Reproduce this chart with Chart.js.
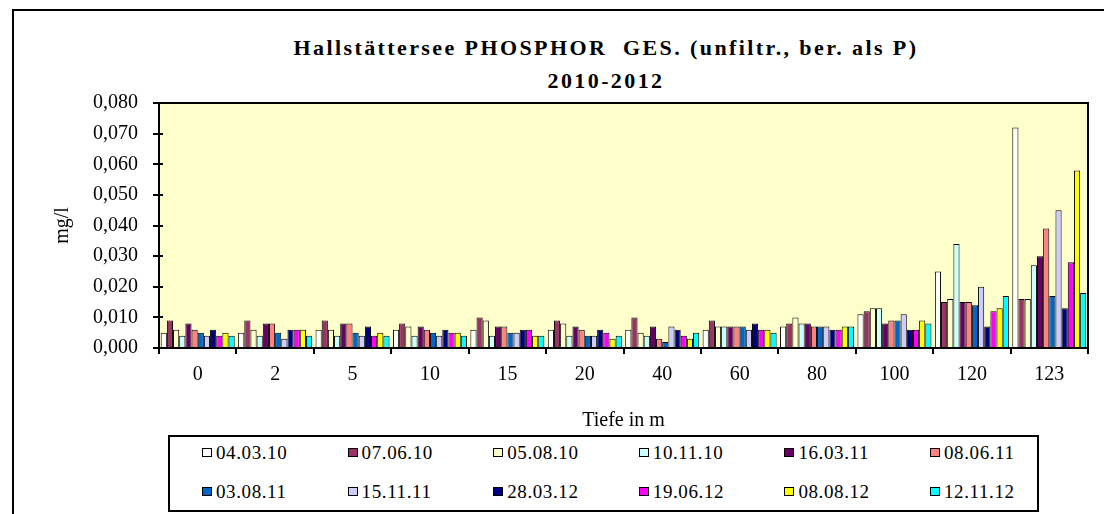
<!DOCTYPE html>
<html>
<head>
<meta charset="utf-8">
<script src="https://cdn.jsdelivr.net/npm/chart.js@4.4.1/dist/chart.umd.min.js"></script>
<style>
  html, body { margin: 0; padding: 0; background: #fff; }
  body { width: 1104px; height: 514px; overflow: hidden; position: relative; font-family: "Liberation Serif", "Times New Roman", serif; color: #000; }
  #frame { position: absolute; left: 12px; top: 9px; width: 1300px; height: 700px; border: 2px solid #000; box-sizing: border-box; }
  #title { position: absolute; left: 0; width: 1212px; top: 31px; text-align: center; font-weight: bold; font-size: 22px; line-height: 33px; letter-spacing: 2.4px; }
  #chart { position: absolute; left: 0; top: 0; }
  #legend { position: absolute; left: 168px; top: 435px; width: 871px; height: 77px; border: 2px solid #000; box-sizing: border-box; background: #fff; }
  .item { position: absolute; height: 22px; line-height: 22px; font-size: 19px; letter-spacing: 0.6px; white-space: nowrap; }
  .swatch { display: inline-block; width: 8px; height: 7px; border: 1.5px solid #000; vertical-align: middle; margin-right: 4px; position: relative; top: -2px; }
</style>
</head>
<body>
<div id="frame"></div>
<div id="title">Hallstättersee PHOSPHOR&nbsp; GES. (unfiltr., ber. als P)<br>2010-2012</div>
<canvas id="chart" width="1104" height="440"></canvas>
<div id="legend"></div>
<script>
const depths = ["0", "2", "5", "10", "15", "20", "40", "60", "80", "100", "120", "123"];
const yTickLabels = ["0,000", "0,010", "0,020", "0,030", "0,040", "0,050", "0,060", "0,070", "0,080"];

const d040310 = [0.005, 0.005, 0.006, 0.006, 0.006, 0.006, 0.006, 0.006, 0.007, 0.011, 0.025, 0.072];
const d070610 = [0.009, 0.009, 0.009, 0.008, 0.010, 0.009, 0.010, 0.009, 0.008, 0.012, 0.015, 0.016];
const d050810 = [0.006, 0.006, 0.006, 0.007, 0.009, 0.008, 0.005, 0.007, 0.010, 0.013, 0.016, 0.016];
const d101110 = [0.004, 0.004, 0.004, 0.004, 0.004, 0.004, 0.004, 0.007, 0.008, 0.013, 0.034, 0.027];
const d160311 = [0.008, 0.008, 0.008, 0.007, 0.007, 0.007, 0.007, 0.007, 0.008, 0.008, 0.015, 0.030];
const d080611 = [0.006, 0.008, 0.008, 0.006, 0.007, 0.006, 0.003, 0.007, 0.007, 0.009, 0.015, 0.039];
const d030811 = [0.005, 0.005, 0.005, 0.005, 0.005, 0.004, 0.002, 0.007, 0.007, 0.009, 0.014, 0.017];
const d151111 = [0.004, 0.003, 0.004, 0.004, 0.005, 0.004, 0.007, 0.006, 0.007, 0.011, 0.020, 0.045];
const d280312 = [0.006, 0.006, 0.007, 0.006, 0.006, 0.006, 0.006, 0.008, 0.006, 0.006, 0.007, 0.013];
const d190612 = [0.004, 0.006, 0.004, 0.005, 0.006, 0.005, 0.004, 0.006, 0.006, 0.006, 0.012, 0.028];
const d080812 = [0.005, 0.006, 0.005, 0.005, 0.004, 0.003, 0.003, 0.006, 0.007, 0.009, 0.013, 0.058];
const d121112 = [0.004, 0.004, 0.004, 0.004, 0.004, 0.004, 0.005, 0.005, 0.007, 0.008, 0.017, 0.018];

const seriesLabels = ["04.03.10", "07.06.10", "05.08.10", "10.11.10", "16.03.11", "08.06.11",
  "03.08.11", "15.11.11", "28.03.12", "19.06.12", "08.08.12", "12.11.12"];
const seriesValues = [d040310, d070610, d050810, d101110, d160311, d080611,
  d030811, d151111, d280312, d190612, d080812, d121112];
const seriesColors = ["#FFFFFF", "#993366", "#FFFFCC", "#CCFFFF", "#660066", "#FF8080",
  "#0066CC", "#CCCCFF", "#000080", "#FF00FF", "#FFFF00", "#00FFFF"];

const fontFamily = '"Liberation Serif", "Times New Roman", serif';

// plot background, frame and the inner half of the y ticks
const plotFrame = {
  id: "plotFrame",
  beforeDraw(chart) {
    const { ctx, chartArea: a } = chart;
    ctx.save();
    ctx.fillStyle = "#FFFFCC";
    ctx.fillRect(a.left, a.top, a.right - a.left, a.bottom - a.top);
    ctx.restore();
  },
  afterDatasetsDraw(chart) {
    const { ctx, chartArea: a } = chart;
    const y = chart.scales.y;
    ctx.save();
    ctx.strokeStyle = "#000";
    ctx.lineWidth = 2;
    ctx.strokeRect(a.left, a.top, a.right - a.left, a.bottom - a.top);
    ctx.beginPath();
    y.ticks.forEach((t, i) => {
      const py = Math.round(y.getPixelForTick(i));
      ctx.moveTo(a.left, py);
      ctx.lineTo(a.left + 4, py);
    });
    ctx.stroke();
    ctx.restore();
  },
};

new Chart(document.getElementById("chart"), {
  type: "bar",
  data: {
    labels: depths,
    datasets: seriesLabels.map((label, i) => ({
      label,
      data: seriesValues[i],
      backgroundColor: seriesColors[i],
      borderColor: "#000",
      borderWidth: 1,
      categoryPercentage: 0.956,
      barPercentage: 1,
    })),
  },
  options: {
    responsive: false,
    animation: false,
    layout: { padding: { top: 103, right: 16, left: 0, bottom: 0 } },
    plugins: {
      legend: { display: false },
      tooltip: { enabled: false },
    },
    scales: {
      x: {
        grid: { offset: true, drawOnChartArea: false, tickLength: 6, color: "#000", lineWidth: 2 },
        border: { display: false },
        ticks: { color: "#000", font: { family: fontFamily, size: 20 }, padding: 9, maxRotation: 0 },
        title: { display: true, text: "Tiefe in m", color: "#000", font: { family: fontFamily, size: 20 }, padding: { top: 0, bottom: 7 } },
        afterFit: (scale) => { scale.height = 92; },
      },
      y: {
        min: 0,
        max: 0.08,
        ticks: {
          stepSize: 0.01,
          color: "#000",
          font: { family: fontFamily, size: 20 },
          padding: 15,
          callback: (value, index) => yTickLabels[index],
        },
        grid: { drawOnChartArea: false, tickLength: 6, color: "#000", lineWidth: 2 },
        border: { display: false },
        title: { display: true, text: "mg/l", color: "#000", font: { family: fontFamily, size: 20 }, padding: { top: 51, bottom: 0 } },
        afterFit: (scale) => { scale.width = 159; },
      },
    },
  },
  plugins: [plotFrame],
});

// legend: 6 columns x 2 rows inside the bordered box
const legendEl = document.getElementById("legend");
seriesLabels.forEach((label, i) => {
  const col = i % 6;
  const row = Math.floor(i / 6);
  const item = document.createElement("div");
  item.className = "item";
  item.style.left = (32 + col * 145.6) + "px";
  item.style.top = (5 + row * 39) + "px";
  item.innerHTML = '<span class="swatch" style="background:' + seriesColors[i] + '"></span>' + label;
  legendEl.appendChild(item);
});
</script>
</body>
</html>
